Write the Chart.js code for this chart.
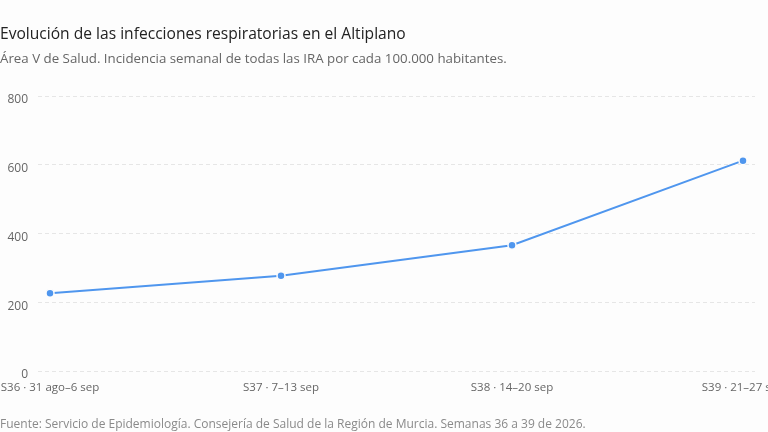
<!DOCTYPE html>
<html lang="es">
<head>
<meta charset="utf-8">
<script src="https://cdn.jsdelivr.net/npm/chart.js@4/dist/chart.umd.min.js"></script>
<style>
  html, body { margin: 0; padding: 0; background: #fdfdfd; overflow: hidden; }
  #wrap { position: relative; width: 768px; height: 432px; font-family: "Open Sans", sans-serif; }
  #chart { position: absolute; left: 0; top: 0; }
  .title { position: absolute; left: 0; top: 22px; font-size: 15.6px; color: #222; white-space: nowrap; }
  .sub { position: absolute; left: 0; top: 49px; font-size: 13.3px; color: #666; white-space: nowrap; }
  .src { position: absolute; left: 0; top: 415px; font-size: 12px; color: #8a8a8a; white-space: nowrap; }
</style>
</head>
<body>
<div id="wrap">
  <canvas id="chart" width="768" height="432"></canvas>
  <div class="title">Evolución de las infecciones respiratorias en el Altiplano</div>
  <div class="sub">Área V de Salud. Incidencia semanal de todas las IRA por cada 100.000 habitantes.</div>
  <div class="src">Fuente: Servicio de Epidemiología. Consejería de Salud de la Región de Murcia. Semanas 36 a 39 de 2026.</div>
</div>
<script>
"use strict";

// semanas epidemiológicas
var weeks = ['S36 · 31 ago–6 sep', 'S37 · 7–13 sep', 'S38 · 14–20 sep', 'S39 · 21–27 sep'];
// incidencia IRA por 100.000 hab.
var incidence = [226, 277, 366, 612];
var yTicks = [0, 200, 400, 600, 800];

var blue = '#4f96ee';

var points = weeks.map(function(w, i) {
    return { x: i, y: incidence[i] };
});

var ctx = document.getElementById('chart');
var chart = new Chart(ctx, {
    type: 'line',
    data: {
        datasets: [{
            data: points,
            borderColor: blue,
            backgroundColor: blue,
            borderWidth: 2,
            pointRadius: 4,
            pointBorderColor: '#fdfdfd',
            pointBorderWidth: 1.5,
            pointBackgroundColor: blue,
            tension: 0
        }]
    },
    options: {
        responsive: false,
        animation: false,
        devicePixelRatio: 1,
        layout: {
            padding: { top: 96, right: 13, bottom: 37, left: 0 }
        },
        plugins: {
            legend: { display: false },
            tooltip: { enabled: false }
        },
        scales: {
            x: {
                type: 'linear',
                min: -0.052,
                max: weeks.length - 1 + 0.052,
                grid: { display: false, drawTicks: false },
                border: { display: false },
                afterBuildTicks: function(scale) {
                    scale.ticks = weeks.map(function(w, i) { return { value: i }; });
                },
                afterFit: function(scale) {
                    scale.paddingLeft = 0;
                    scale.paddingRight = 0;
                    scale.height = 24;
                },
                ticks: {
                    padding: 10,
                    maxRotation: 0,
                    autoSkip: false,
                    color: '#666',
                    font: { family: 'Open Sans', size: 11.5 },
                    callback: function(value) { return weeks[value]; }
                }
            },
            y: {
                min: 0,
                max: 800,
                afterBuildTicks: function(scale) {
                    scale.ticks = yTicks.map(function(v) { return { value: v }; });
                },
                afterFit: function(scale) {
                    scale.width = 38;
                },
                grid: {
                    color: '#e6e6e6',
                    lineWidth: 1,
                    drawTicks: false
                },
                border: { display: false, dash: [4, 3] },
                ticks: {
                    padding: 10,
                    labelOffset: 4,
                    color: '#666',
                    font: { family: 'Open Sans', size: 12 }
                }
            }
        }
    }
});
</script>
</body>
</html>
